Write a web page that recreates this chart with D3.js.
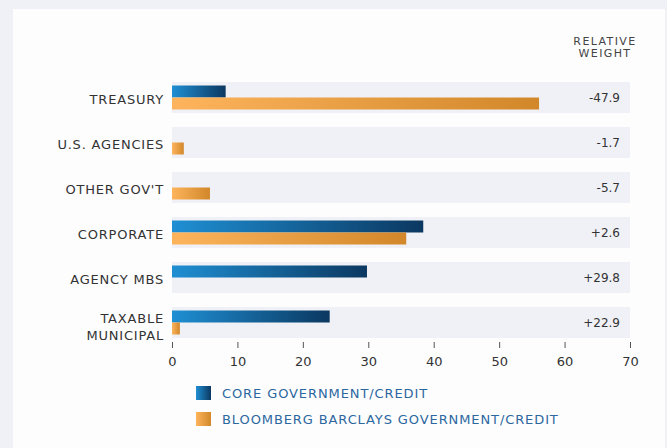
<!DOCTYPE html>
<html>
<head>
<meta charset="utf-8">
<script src="https://cdn.jsdelivr.net/npm/d3@7"></script>
<style>
  body { margin: 0; background: #f0f1f7; }
  svg { display: block; font-family: "DejaVu Sans", sans-serif; }
</style>
</head>
<body>
<svg id="chart"></svg>
<script>
// data
const categories = ["TREASURY", "U.S. AGENCIES", "OTHER GOV'T", "CORPORATE", "AGENCY MBS", "TAXABLE MUNICIPAL"];
const coreValues = [8.2, 0, 0, 38.4, 29.8, 24.1];
const benchValues = [56.1, 1.8, 5.8, 35.8, 0, 1.2];
const relativeWeight = ["-47.9", "-1.7", "-5.7", "+2.6", "+29.8", "+22.9"];
const seriesNames = ["CORE GOVERNMENT/CREDIT", "BLOOMBERG BARCLAYS GOVERNMENT/CREDIT"];
const xTicks = [0, 10, 20, 30, 40, 50, 60, 70];

const width = 667,
    height = 448,
    margin = { top: 82, left: 172, right: 37 };

const svg = d3.select("#chart").attr("width", width).attr("height", height);

// white card
svg.append("rect")
    .attr("x", 13).attr("y", 9)
    .attr("width", 652).attr("height", height)
    .attr("fill", "#fdfdfe");

const defs = svg.append("defs");
function grad(id, c1, c2) {
    const g = defs.append("linearGradient").attr("id", id)
        .attr("x1", "0%").attr("x2", "100%").attr("y1", "0%").attr("y2", "0%");
    g.append("stop").attr("offset", "0%").attr("stop-color", c1);
    g.append("stop").attr("offset", "100%").attr("stop-color", c2);
}
grad("blueGrad", "#1f8fd3", "#0b3861");
grad("orangeGrad", "#fdb45c", "#d2872a");

const xScale = d3.scaleLinear().domain([0, 70]).range([margin.left, width - margin.right]);
const yScale = d3.scaleBand().domain(categories).range([margin.top, 338]).paddingInner(0.311).paddingOuter(0);

// bands
svg.selectAll(".band").data(categories).join("rect")
    .attr("class", "band")
    .attr("x", xScale(0))
    .attr("y", d => yScale(d))
    .attr("width", xScale(70) - xScale(0))
    .attr("height", yScale.bandwidth())
    .attr("fill", "#f0f1f6");

const barH = 12;
const inner = (yScale.bandwidth() - 2 * barH) / 2;

// core bars
svg.selectAll(".core").data(categories).join("rect")
    .attr("class", "core")
    .attr("x", xScale(0))
    .attr("y", d => yScale(d) + inner)
    .attr("width", (d, i) => xScale(coreValues[i]) - xScale(0))
    .attr("height", barH)
    .attr("fill", "url(#blueGrad)");

// benchmark bars
svg.selectAll(".bench").data(categories).join("rect")
    .attr("class", "bench")
    .attr("x", xScale(0))
    .attr("y", d => yScale(d) + inner + barH)
    .attr("width", (d, i) => xScale(benchValues[i]) - xScale(0))
    .attr("height", barH)
    .attr("fill", "url(#orangeGrad)");

// category labels
const labelX = xScale(0) - 8;
svg.selectAll(".cat").data(categories).join("text")
    .attr("class", "cat")
    .attr("x", labelX)
    .attr("y", d => yScale(d) + yScale.bandwidth() / 2)
    .attr("text-anchor", "end")
    .attr("font-size", 13)
    .attr("letter-spacing", 0.8)
    .attr("fill", "#333")
    .each(function (d) {
        const t = d3.select(this);
        if (d !== "TAXABLE MUNICIPAL") {
            t.append("tspan").attr("dy", "0.5em").text(d);
        } else {
            t.append("tspan").attr("x", labelX).attr("dy", "0.05em").text("TAXABLE");
            t.append("tspan").attr("x", labelX).attr("dy", "1.3em").text("MUNICIPAL");
        }
    });

// relative weight
svg.selectAll(".rel").data(categories).join("text")
    .attr("class", "rel")
    .attr("x", 620)
    .attr("y", d => yScale(d) + yScale.bandwidth() / 2)
    .attr("dy", "0.35em")
    .attr("text-anchor", "end")
    .attr("font-size", 12)
    .attr("fill", "#333")
    .text((d, i) => relativeWeight[i]);

svg.selectAll(".hdr").data(["RELATIVE", "WEIGHT"]).join("text")
    .attr("class", "hdr")
    .attr("x", 605)
    .attr("y", (d, i) => 45 + i * 12)
    .attr("text-anchor", "middle")
    .attr("font-size", 11)
    .attr("letter-spacing", 1.4)
    .attr("fill", "#444")
    .text(d => d);

// x axis
const xAxis = d3.axisBottom(xScale).tickValues(xTicks).tickSize(6).tickPadding(9);
const gx = svg.append("g").attr("transform", "translate(0,342)").call(xAxis);
gx.select(".domain").remove();
gx.selectAll(".tick line").attr("stroke", "#555");
gx.selectAll(".tick text").attr("font-size", 13).attr("fill", "#333").attr("font-family", "DejaVu Sans, sans-serif");

// legend
const legend = svg.selectAll(".legend").data(seriesNames).join("g")
    .attr("class", "legend")
    .attr("transform", (d, i) => `translate(196,${386 + i * 26})`);
legend.append("rect")
    .attr("width", 15).attr("height", 14)
    .attr("fill", (d, i) => i === 0 ? "url(#blueGrad)" : "url(#orangeGrad)");
legend.append("text")
    .attr("x", 26).attr("y", 7).attr("dy", "0.35em")
    .attr("font-size", 13)
    .attr("letter-spacing", 0.9)
    .attr("fill", "#2c679e")
    .text(d => d);
</script>
</body>
</html>
